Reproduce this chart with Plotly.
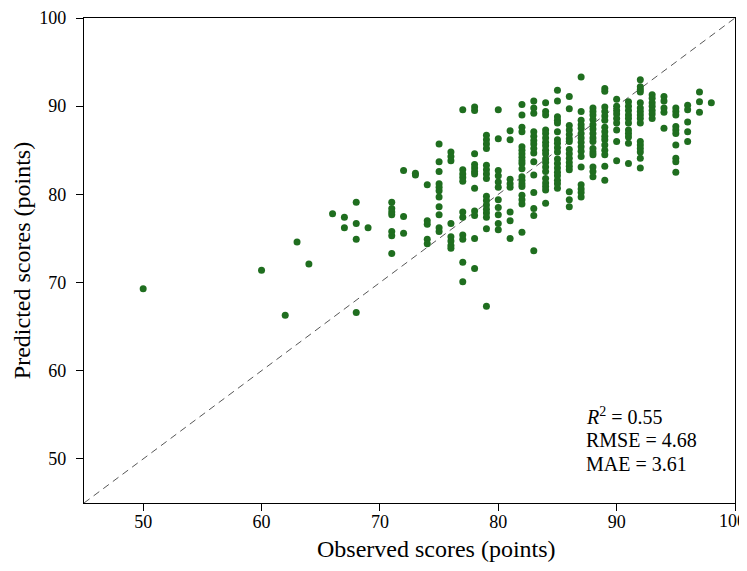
import plotly.graph_objects as go

# Observed (x) values grouped by integer score, with predicted (y) values
obs_50 = [69.3]
obs_60 = [71.4]
obs_62 = [66.3]
obs_63 = [74.6]
obs_64 = [72.1]
obs_66 = [77.8]
obs_67 = [77.4, 76.2]
obs_68 = [79.1, 76.7, 74.9, 66.6]
obs_69 = [76.2]
obs_71 = [79.1, 78.4, 78.0, 77.7, 75.8, 75.3, 73.3]
obs_72 = [82.7, 77.5, 75.6]
obs_73 = [82.4, 82.2]
obs_74 = [81.1, 77.0, 76.6, 74.9, 74.4]
obs_75 = [85.7, 83.7, 82.6, 81.2, 80.8, 80.4, 79.7, 78.6, 77.7, 76.2, 75.8]
obs_76 = [84.8, 84.3, 83.8, 76.7, 75.2, 74.7, 74.2, 73.9]
obs_77 = [89.6, 82.8, 82.3, 81.9, 81.5, 78.0, 77.4, 75.4, 74.9, 72.3, 70.1]
obs_78 = [89.9, 89.5, 84.6, 83.4, 83.0, 82.6, 82.3, 80.7, 78.1, 77.6, 75.0, 71.6]
obs_79 = [86.7, 86.2, 85.7, 85.2, 83.3, 82.8, 82.3, 81.8, 79.8, 79.3, 78.8, 78.3,
          77.9, 77.4, 76.1, 67.3]
obs_80 = [89.6, 86.3, 82.7, 82.1, 81.4, 80.8, 79.4, 78.5, 77.7, 76.7, 76.0]
obs_81 = [87.2, 86.2, 81.7, 81.2, 80.8, 78.0, 77.0, 75.0]
obs_82 = [90.2, 89.0, 87.6, 87.1, 85.4, 85.0, 84.6, 84.2, 83.8, 83.5, 82.9, 82.0,
          81.6, 81.2, 80.9, 79.9, 79.4, 78.9, 75.7]
obs_83 = [90.6, 89.8, 89.2, 87.1, 86.6, 86.1, 85.7, 85.2, 84.7, 83.7, 82.2, 80.2,
          78.4, 77.6, 73.6]
obs_84 = [90.4, 89.4, 89.0, 87.3, 86.9, 86.4, 85.9, 85.5, 85.0, 84.6, 84.0, 83.6,
          83.1, 82.6, 81.8, 81.3, 80.9, 80.5, 79.0]
obs_85 = [91.8, 90.6, 88.8, 88.4, 88.1, 87.1, 86.2, 85.8, 85.3, 84.8, 84.0, 83.5,
          83.0, 82.5, 82.1, 81.6, 81.2, 80.7]
obs_86 = [91.1, 89.7, 87.8, 87.3, 86.8, 86.3, 86.0, 85.1, 84.6, 84.1, 83.6, 83.2,
          82.8, 80.3, 79.4, 78.6]
obs_87 = [93.3, 89.4, 88.4, 87.9, 87.5, 86.9, 86.4, 85.9, 85.4, 84.9, 84.3, 83.1,
          81.1, 80.6, 80.2, 79.7]
obs_88 = [89.8, 89.4, 89.0, 88.5, 87.9, 87.4, 86.9, 86.4, 86.0, 85.2, 84.8, 84.5,
          83.1, 82.6, 82.0]
obs_89 = [92.0, 91.7, 89.9, 89.4, 88.9, 88.4, 87.6, 87.1, 86.6, 86.2, 85.6, 85.0,
          84.5, 83.2, 81.6]
obs_90 = [90.8, 90.0, 89.5, 89.1, 88.6, 88.1, 87.3, 86.0, 83.8]
obs_91 = [90.5, 90.0, 89.5, 89.0, 88.6, 88.1, 87.3, 86.9, 86.5, 85.8, 83.5]
obs_92 = [93.0, 92.2, 91.9, 91.6, 90.4, 89.8, 89.4, 89.0, 88.6, 88.1, 86.0, 85.6,
          85.2, 84.8, 84.1, 83.0]
obs_93 = [91.3, 90.9, 90.4, 90.0, 89.5, 89.1, 88.6]
obs_94 = [91.1, 90.6, 89.8, 89.3, 87.5]
obs_95 = [89.8, 89.4, 89.0, 87.7, 87.3, 86.9, 85.6, 84.1, 83.7, 82.5]
obs_96 = [90.1, 89.6, 88.2, 87.1, 86.0]
obs_97 = [91.6, 90.5, 89.3]
obs_98 = [90.4]

predicted_by_observed = {
    50: obs_50, 60: obs_60, 62: obs_62, 63: obs_63, 64: obs_64, 66: obs_66,
    67: obs_67, 68: obs_68, 69: obs_69, 71: obs_71, 72: obs_72, 73: obs_73,
    74: obs_74, 75: obs_75, 76: obs_76, 77: obs_77, 78: obs_78, 79: obs_79,
    80: obs_80, 81: obs_81, 82: obs_82, 83: obs_83, 84: obs_84, 85: obs_85,
    86: obs_86, 87: obs_87, 88: obs_88, 89: obs_89, 90: obs_90, 91: obs_91,
    92: obs_92, 93: obs_93, 94: obs_94, 95: obs_95, 96: obs_96, 97: obs_97,
    98: obs_98,
}

observed = []
predicted = []
for k, vals in predicted_by_observed.items():
    for v in vals:
        observed.append(k)
        predicted.append(v)

identity_line = [45, 100]
tick_values = [50, 60, 70, 80, 90, 100]
tick_labels = ["50", "60", "70", "80", "90", "100"]
stats_lines = ["<i>R</i><sup>2</sup> = 0.55", "RMSE = 4.68", "MAE = 3.61"]
x_title = "Observed scores (points)"
y_title = "Predicted scores (points)"

FONT = "Liberation Serif, Times New Roman, serif"

fig = go.Figure()
fig.add_trace(go.Scatter(
    x=identity_line, y=identity_line, mode="lines",
    line=dict(color="#444444", width=0.9, dash="7px,5px"),
    hoverinfo="skip", showlegend=False,
))
fig.add_trace(go.Scatter(
    x=observed, y=predicted, mode="markers",
    marker=dict(color="#1f6e1f", size=7, line=dict(width=0)),
    showlegend=False,
))

axis_common = dict(
    range=[45, 100], tickvals=tick_values, showgrid=False, zeroline=False,
    showline=True, linecolor="black", linewidth=1.2, mirror=True,
    ticks="outside", ticklen=7, tickwidth=1.2, tickcolor="black",
    tickfont=dict(family=FONT, size=18, color="black"),
    automargin=False, ticklabeloverflow="allow",
)

# the last x tick label sits at the page edge; it is drawn as an annotation
x_ticktext = tick_labels[:-1] + [""]

# page has an 8px body margin; plot area should land at x 84..735, y 18..503
fig.update_layout(
    width=739, height=563,
    margin=dict(l=76, r=12, t=10, b=68),
    paper_bgcolor="white", plot_bgcolor="white",
    font=dict(family=FONT, color="black"),
    xaxis=dict(**axis_common, ticktext=x_ticktext, ticklabelstandoff=-5),
    yaxis=dict(**axis_common, ticktext=tick_labels, ticklabelstandoff=6,
               title=dict(text=y_title,
                          font=dict(family=FONT, size=24, color="black"),
                          standoff=1)),
)

def px_to_paper(px, py):
    return (px - 84) / 651, 1 - (py - 18) / 485

# last x tick label, right-aligned so it stays inside the page
lx, ly = px_to_paper(748, 521)
fig.add_annotation(
    x=lx, y=ly, xref="paper", yref="paper", text=tick_labels[-1],
    showarrow=False, xanchor="right", yanchor="middle",
    font=dict(family=FONT, size=18, color="black"),
)

tx, ty = px_to_paper(437, 549)
fig.add_annotation(
    x=tx, y=ty, xref="paper", yref="paper", text=x_title, showarrow=False,
    xanchor="center", yanchor="middle",
    font=dict(family=FONT, size=24, color="black"),
)

for i, line in enumerate(stats_lines):
    ax, ay = px_to_paper(584, 416 + 24 * i)
    fig.add_annotation(
        x=ax, y=ay, xref="paper", yref="paper", text=line,
        showarrow=False, align="left", xanchor="left", yanchor="middle",
        font=dict(family=FONT, size=20, color="black"),
    )

fig.write_html("out.html")
